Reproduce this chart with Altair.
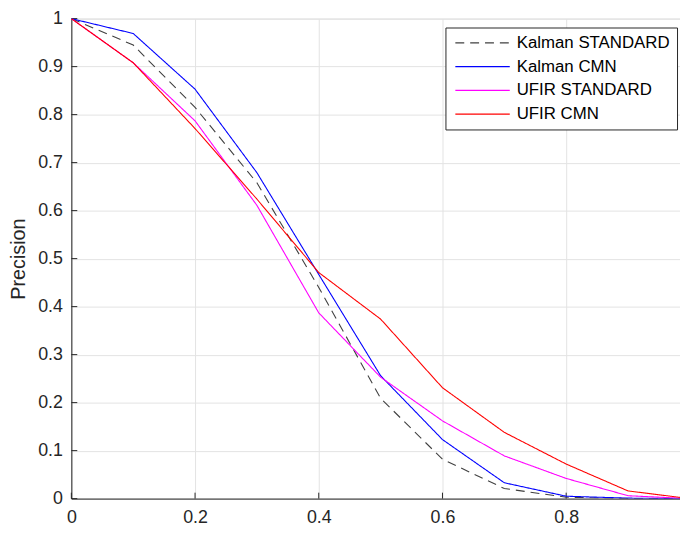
import altair as alt
import pandas as pd

x_vals = [0, 0.1, 0.2, 0.3, 0.4, 0.5, 0.6, 0.7, 0.8, 0.9, 1.0]
kalman_standard = [1.0, 0.945, 0.815, 0.658, 0.44, 0.209, 0.082, 0.021, 0.003, 0.0, 0.0]
kalman_cmn = [1.0, 0.969, 0.853, 0.679, 0.467, 0.256, 0.123, 0.033, 0.005, 0.001, 0.0]
ufir_standard = [1.0, 0.908, 0.787, 0.611, 0.387, 0.253, 0.162, 0.089, 0.042, 0.006, 0.0]
ufir_cmn = [1.0, 0.908, 0.771, 0.624, 0.471, 0.374, 0.231, 0.138, 0.072, 0.016, 0.0]

series_names = ["Kalman STANDARD", "Kalman CMN", "UFIR STANDARD", "UFIR CMN"]
series_colors = ["#404040", "#0000ff", "#ff00ff", "#ff0000"]
series_dash = [[9, 6], [1, 0], [1, 0], [1, 0]]

x_ticks = [0, 0.2, 0.4, 0.6, 0.8]
y_ticks = [0, 0.1, 0.2, 0.3, 0.4, 0.5, 0.6, 0.7, 0.8, 0.9, 1.0]

rows = []
for name, vals in zip(series_names, [kalman_standard, kalman_cmn, ufir_standard, ufir_cmn]):
    for i, (xv, yv) in enumerate(zip(x_vals, vals)):
        rows.append({"x": xv, "y": yv, "series": name, "order": i})
df = pd.DataFrame(rows)

FONT = "Liberation Sans"
W, H = 615, 485

xscale = alt.Scale(domain=[0, 0.984], nice=False, zero=False)
yscale = alt.Scale(domain=[0, 1], nice=False)

x_axis = alt.Axis(values=x_ticks, format="~g", title=None, ticks=False,
                  grid=True, gridColor="#e3e3e3", gridWidth=1,
                  domainColor="#262626", domainWidth=1,
                  labelFont=FONT, labelFontSize=18, labelColor="#262626",
                  labelPadding=10, labelFlush=False)
y_axis = alt.Axis(values=y_ticks, format="~g", title="Precision", ticks=False,
                  grid=True, gridColor="#e3e3e3", gridWidth=1,
                  domainColor="#262626", domainWidth=1,
                  labelFont=FONT, labelFontSize=18, labelColor="#262626",
                  labelPadding=9, labelFlush=False,
                  titleFont=FONT, titleFontSize=20, titleFontWeight="normal",
                  titleColor="#262626", titlePadding=9)

legend = alt.Legend(title=None, orient="none", legendX=378, legendY=9,
                    symbolType="M-1,0H9", symbolSize=121, symbolStrokeWidth=1.2,
                    labelFont=FONT, labelFontSize=17, labelColor="#000000",
                    labelOffset=48, rowPadding=6, padding=7,
                    fillColor="white", strokeColor="#262626",
                    labelLimit=300)

lines = alt.Chart(df).mark_line(strokeWidth=1.1, clip=True).encode(
    x=alt.X("x:Q", scale=xscale, axis=x_axis),
    y=alt.Y("y:Q", scale=yscale, axis=y_axis),
    color=alt.Color("series:N", scale=alt.Scale(domain=series_names, range=series_colors),
                    legend=legend, sort=series_names),
    strokeDash=alt.StrokeDash("series:N", scale=alt.Scale(domain=series_names, range=series_dash),
                              legend=legend, sort=series_names),
    order="order:Q",
)

ytick_df = pd.DataFrame({"v": y_ticks})
xtick_df = pd.DataFrame({"v": x_ticks})

yticks = alt.Chart(ytick_df).mark_rule(color="#262626", strokeWidth=1).encode(
    y=alt.Y("v:Q", scale=yscale), x=alt.value(0), x2=alt.value(6))
xticks = alt.Chart(xtick_df).mark_rule(color="#262626", strokeWidth=1).encode(
    x=alt.X("v:Q", scale=xscale), y=alt.value(H), y2=alt.value(H - 6))

chart = alt.layer(yticks, xticks, lines).properties(
    width=W, height=H,
    autosize=alt.AutoSizeParams(type="none"),
    padding={"left": 64, "top": 8, "right": 0, "bottom": 30},
).configure_view(stroke=None).configure(background="white")

chart.save("out.html", embed_options={"renderer": "svg", "actions": False})
